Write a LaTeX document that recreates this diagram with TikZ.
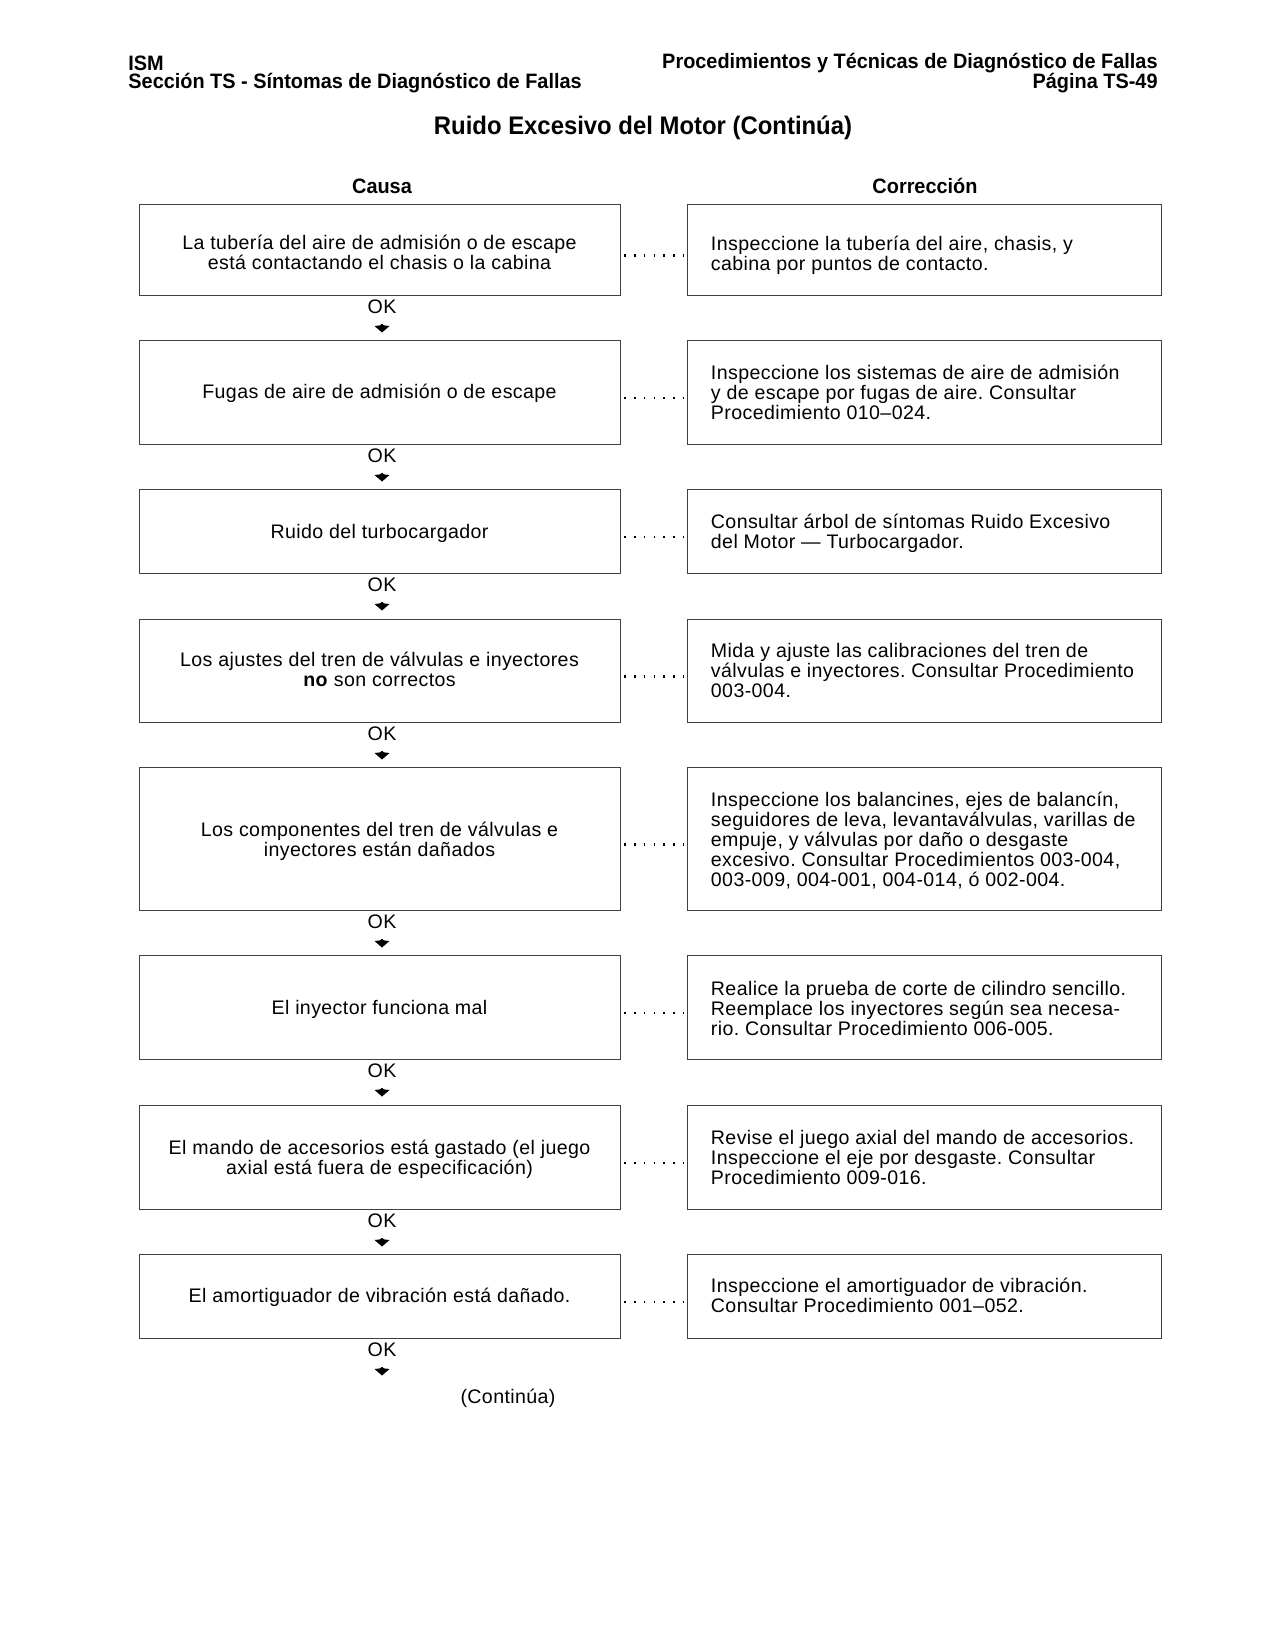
\documentclass[tikz,border=0pt]{standalone}
\usepackage{fontspec}
\setmainfont{Liberation Sans}[LetterSpace=2]
\newfontfamily\hdfont{Liberation Sans}[FakeStretch=0.955]
\newfontfamily\ttlfont{Liberation Sans}[FakeStretch=0.94]
\frenchspacing
\begin{document}
\begin{tikzpicture}[x=0.48pt,y=-0.48pt,
  body/.style={font=\fontsize{9.4}{9.6}\selectfont\frenchspacing, inner sep=0pt},
  lbox/.style={draw=black!75, line width=0.45pt, minimum width=481*0.48pt, inner sep=0pt},
  rbox/.style={draw=black!75, line width=0.45pt, minimum width=474*0.48pt, inner sep=0pt},
  ltext/.style={body, align=center},
  rtext/.style={body, align=left, anchor=west},
  oklab/.style={body},
  dotline/.style={line width=1.1pt, dash pattern=on 0.9pt off 3.85pt, shorten <=1.6pt, shorten >=1.4pt},
  head/.style={font=\hdfont\bfseries\fontsize{10}{11}\selectfont, inner sep=0pt},
  tip/.style={fill=black},
]
\useasboundingbox (0,0) rectangle (1275,1650);
% header
\node[head, anchor=west] (h1) at (128,63) {ISM};
\node[head, anchor=west] (h2) at (128,83) {Sección TS - Síntomas de Diagnóstico de Fallas};
\node[head, anchor=east] (h3) at (1158,63) {Procedimientos y Técnicas de Diagnóstico de Fallas};
\node[head, anchor=east] (h4) at (1158,83) {Página TS-49};
\node[font=\ttlfont\bfseries\fontsize{12.2}{13}\selectfont, inner sep=0pt] (title) at (643,128) {Ruido Excesivo del Motor (Continúa)};
\node[head] (causa) at (382,186) {Causa};
\node[head] (corr) at (925,186) {Corrección};

% left boxes
\node[lbox, minimum height=91*0.48pt] (L1) at (379.5,249.5) {};
\node[lbox, minimum height=104*0.48pt] (L2) at (379.5,392) {};
\node[lbox, minimum height=84*0.48pt] (L3) at (379.5,531) {};
\node[lbox, minimum height=103*0.48pt] (L4) at (379.5,670.5) {};
\node[lbox, minimum height=143*0.48pt] (L5) at (379.5,838.5) {};
\node[lbox, minimum height=104*0.48pt] (L6) at (379.5,1007) {};
\node[lbox, minimum height=104*0.48pt] (L7) at (379.5,1157) {};
\node[lbox, minimum height=84*0.48pt] (L8) at (379.5,1296) {};

\node[ltext] (S1) at ([yshift=-1.6pt]L1.center) {La tubería del aire de admisión o de escape\\está contactando el chasis o la cabina};
\node[ltext] (S2) at ([yshift=-0.5pt]L2.center) {Fugas de aire de admisión o de escape};
\node[ltext] (S3) at ([yshift=-1.0pt]L3.center) {Ruido del turbocargador};
\node[ltext] (S4) at ([yshift=0.4pt]L4.center) {Los ajustes del tren de válvulas e inyectores\\\textbf{no} son correctos};
\node[ltext] (S5) at ([yshift=-1.4pt]L5.center) {Los componentes del tren de válvulas e\\inyectores están dañados};
\node[ltext] (S6) at ([yshift=-1.4pt]L6.center) {El inyector funciona mal};
\node[ltext] (S7) at ([yshift=-0.9pt]L7.center) {El mando de accesorios está gastado (el juego\\axial está fuera de especificación)};
\node[ltext] (S8) at ([yshift=-0.4pt]L8.center) {El amortiguador de vibración está dañado.};

% right boxes
\node[rbox, minimum height=91*0.48pt] (R1) at (924,249.5) {};
\node[rbox, minimum height=104*0.48pt] (R2) at (924,392) {};
\node[rbox, minimum height=84*0.48pt] (R3) at (924,531) {};
\node[rbox, minimum height=103*0.48pt] (R4) at (924,670.5) {};
\node[rbox, minimum height=143*0.48pt] (R5) at (924,838.5) {};
\node[rbox, minimum height=104*0.48pt] (R6) at (924,1007) {};
\node[rbox, minimum height=104*0.48pt] (R7) at (924,1157) {};
\node[rbox, minimum height=84*0.48pt] (R8) at (924,1296) {};

\node[rtext] (T1) at ([xshift=24*0.48pt,yshift=-2.9pt]R1.west) {Inspeccione la tubería del aire, chasis, y\\cabina por puntos de contacto.};
\node[rtext] (T2) at ([xshift=24*0.48pt,yshift=-0.2pt]R2.west) {Inspeccione los sistemas de aire de admisión\\y de escape por fugas de aire. Consultar\\Procedimiento 010–024.};
\node[rtext] (T3) at ([xshift=24*0.48pt,yshift=-0.9pt]R3.west) {Consultar árbol de síntomas Ruido Excesivo\\del Motor — Turbocargador.};
\node[rtext] (T4) at ([xshift=24*0.48pt,yshift=0.1pt]R4.west) {Mida y ajuste las calibraciones del tren de\\válvulas e inyectores. Consultar Procedimiento\\003-004.};
\node[rtext] (T5) at ([xshift=24*0.48pt,yshift=-1.2pt]R5.west) {Inspeccione los balancines, ejes de balancín,\\seguidores de leva, levantaválvulas, varillas de\\empuje, y válvulas por daño o desgaste\\excesivo. Consultar Procedimientos 003-004,\\003-009, 004-001, 004-014, ó 002-004.};
\node[rtext] (T6) at ([xshift=24*0.48pt,yshift=-0.7pt]R6.west) {Realice la prueba de corte de cilindro sencillo.\\Reemplace los inyectores según sea necesa-\\rio. Consultar Procedimiento 006-005.};
\node[rtext] (T7) at ([xshift=24*0.48pt,yshift=-0.2pt]R7.west) {Revise el juego axial del mando de accesorios.\\Inspeccione el eje por desgaste. Consultar\\Procedimiento 009-016.};
\node[rtext] (T8) at ([xshift=24*0.48pt,yshift=0.1pt]R8.west) {Inspeccione el amortiguador de vibración.\\Consultar Procedimiento 001–052.};

% dotted leaders
\foreach \i in {1,...,8}{
  \draw[dotline] ([yshift=-6*0.48pt]L\i.east) -- ([yshift=-6*0.48pt]R\i.west);
}

% OK labels and arrowheads
\foreach \i/\yy in {1/307,2/456,3/585,4/734,5/922,6/1071,7/1221,8/1350}{
  \node[oklab] (ok\i) at (382,\yy) {OK};
  \coordinate (a\i) at (382,\yy+21);
  \fill[tip] (a\i) ++(0,4.5) -- ++(-7.5,-6.5) -- ++(5.5,-0.6) -- ++(2,-1.6) -- ++(2,1.6) -- ++(5.5,0.6) -- cycle;
}

\node[body] (cont) at (508,1398) {(Continúa)};
\end{tikzpicture}
\end{document}
